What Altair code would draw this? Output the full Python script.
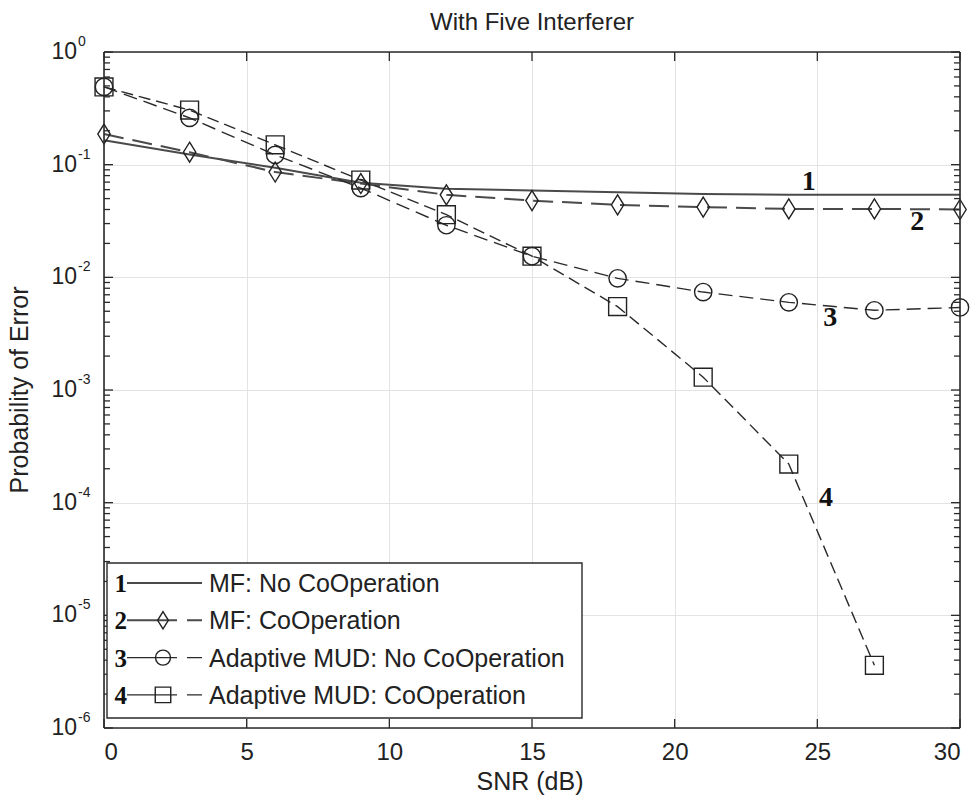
import altair as alt
import pandas as pd

# ---- data -----------------------------------------------------------------
snr = [0, 3, 6, 9, 12, 15, 18, 21, 24, 27, 30]
mf_no_coop = [0.165, 0.123, 0.094, 0.069, 0.061, 0.059, 0.057, 0.055, 0.054, 0.054, 0.054]
mf_coop = [0.187, 0.129, 0.086, 0.068, 0.054, 0.048, 0.044, 0.042, 0.0405, 0.0405, 0.040]
mud_no_coop = [0.49, 0.26, 0.122, 0.062, 0.029, 0.0154, 0.0098, 0.0074, 0.006, 0.0051, 0.0054]
mud_coop = [0.49, 0.305, 0.15, 0.073, 0.036, 0.0154, 0.0055, 0.0013, 0.00022, 0.0000036]

series_names = ["MF: No CoOperation", "MF: CoOperation",
                "Adaptive MUD: No CoOperation", "Adaptive MUD: CoOperation"]
series_ids = ["1", "2", "3", "4"]

# curve number annotations (position in data units)
label_x = [24.7, 28.5, 25.45, 25.3]
label_y = [0.070, 0.031, 0.0044, 0.00011]

x_ticks = [0, 5, 10, 15, 20, 25, 30]
y_exponents = [0, -1, -2, -3, -4, -5, -6]

# ---- layout / style -------------------------------------------------------
W, H = 856, 676
FONT = "Liberation Sans"
INK = "#222222"
DIAMOND = "M0,-1L0.62,0L0,1L-0.62,0Z"

styles = [
    dict(dash=None, width=2.0, color="#4a4a4a", shape=None, size=0),
    dict(dash=[20, 9], width=2.0, color="#4a4a4a", shape=DIAMOND, size=400),
    dict(dash=[14, 7], width=1.4, color="#2a2a2a", shape="circle", size=300),
    dict(dash=[12, 6], width=1.4, color="#2a2a2a", shape="square", size=320),
]

xs = alt.Scale(domain=[0, 30], nice=False, zero=False)
ys = alt.Scale(type="log", domain=[1e-6, 1], nice=False)

x_axis = alt.Axis(values=x_ticks, grid=True, gridColor="#e3e3e3", gridWidth=1,
                  ticks=False, domain=False, labelFontSize=24, labelFont=FONT,
                  labelColor=INK, labelPadding=12, title=None)
y_axis = alt.Axis(values=[10.0 ** e for e in y_exponents], grid=True,
                  gridColor="#e3e3e3", gridWidth=1, ticks=False, domain=False,
                  labels=False, title=None)


def X(field):
    return alt.X(field, type="quantitative", scale=xs, axis=x_axis)


def Y(field):
    return alt.Y(field, type="quantitative", scale=ys, axis=y_axis)


layers = []

# ---- curves ---------------------------------------------------------------
all_values = [mf_no_coop, mf_coop, mud_no_coop, mud_coop]
for name, vals, st in zip(series_names, all_values, styles):
    df = pd.DataFrame({"snr": snr[:len(vals)], "pe": vals, "series": name})
    line_kw = dict(color=st["color"], strokeWidth=st["width"])
    if st["dash"]:
        line_kw["strokeDash"] = st["dash"]
    layers.append(alt.Chart(df).mark_line(**line_kw).encode(x=X("snr"), y=Y("pe")))
    if st["shape"]:
        layers.append(
            alt.Chart(df).mark_point(shape=st["shape"], size=st["size"], filled=False,
                                     color="#222222", strokeWidth=1.4, opacity=1)
            .encode(x=X("snr"), y=Y("pe"))
        )

# ---- frame and inward ticks ----------------------------------------------
frame_color = "#2a2a2a"
frame = [
    dict(x=alt.value(0), x2=alt.value(W), y=alt.value(0)),
    dict(x=alt.value(0), x2=alt.value(W), y=alt.value(H)),
    dict(x=alt.value(0), y=alt.value(0), y2=alt.value(H)),
    dict(x=alt.value(W), y=alt.value(0), y2=alt.value(H)),
]
for enc in frame:
    layers.append(alt.Chart(pd.DataFrame({"k": [0]}))
                  .mark_rule(color=frame_color, strokeWidth=1.6).encode(**enc))

xt = pd.DataFrame({"v": x_ticks})
layers.append(alt.Chart(xt).mark_rule(color=frame_color, strokeWidth=1.3)
              .encode(x=X("v"), y=alt.value(H), y2=alt.value(H - 9)))
layers.append(alt.Chart(xt).mark_rule(color=frame_color, strokeWidth=1.3)
              .encode(x=X("v"), y=alt.value(0), y2=alt.value(9)))

major = pd.DataFrame({"v": [10.0 ** e for e in y_exponents]})
minor = pd.DataFrame({"v": [m * 10.0 ** e for e in range(-6, 0) for m in range(2, 10)]})
for df, ln in [(major, 9), (minor, 6)]:
    layers.append(alt.Chart(df).mark_rule(color=frame_color, strokeWidth=1.3)
                  .encode(y=Y("v"), x=alt.value(0), x2=alt.value(ln)))
    layers.append(alt.Chart(df).mark_rule(color=frame_color, strokeWidth=1.3)
                  .encode(y=Y("v"), x=alt.value(W), x2=alt.value(W - ln)))

# ---- y tick labels as 10 with superscript exponent -----------------------
ylab = pd.DataFrame({"v": [10.0 ** e for e in y_exponents],
                     "base": ["10"] * len(y_exponents),
                     "exp": [str(e) for e in y_exponents]})
layers.append(alt.Chart(ylab).mark_text(align="right", baseline="middle", fontSize=23,
                                        font=FONT, color=INK)
              .encode(y=Y("v"), x=alt.value(-27), text="base:N"))
layers.append(alt.Chart(ylab).mark_text(align="left", baseline="middle", fontSize=14,
                                        font=FONT, color=INK, dy=-10)
              .encode(y=Y("v"), x=alt.value(-26), text="exp:N"))

# ---- titles ---------------------------------------------------------------
one = pd.DataFrame({"k": [0]})
layers.append(alt.Chart(one).mark_text(text="With Five Interferer", fontSize=24, font=FONT,
                                       color=INK, align="center", baseline="alphabetic")
              .encode(x=alt.value(428), y=alt.value(-22)))
layers.append(alt.Chart(one).mark_text(text="SNR (dB)", fontSize=25, font=FONT,
                                       color=INK, align="center", baseline="alphabetic")
              .encode(x=alt.value(426), y=alt.value(738)))
layers.append(alt.Chart(one).mark_text(text="Probability of Error", fontSize=25, font=FONT,
                                       color=INK, align="center", baseline="alphabetic",
                                       angle=270)
              .encode(x=alt.value(-76), y=alt.value(338)))

# ---- curve number labels --------------------------------------------------
lab = pd.DataFrame({"x": label_x, "y": label_y, "t": series_ids})
layers.append(alt.Chart(lab).mark_text(font="Liberation Serif", fontWeight="bold",
                                       fontSize=28, color="#111111", baseline="middle")
              .encode(x=X("x"), y=Y("y"), text="t:N"))

# ---- legend box -----------------------------------------------------------
layers.append(alt.Chart(one).mark_rect(fill="white", stroke=frame_color, strokeWidth=1.4)
              .encode(x=alt.value(3), x2=alt.value(478), y=alt.value(511), y2=alt.value(666)))
for i, (name, sid, st) in enumerate(zip(series_names, series_ids, styles)):
    ly = 531 + 37.3 * i
    rule_kw = dict(color=st["color"], strokeWidth=st["width"])
    if st["dash"]:
        rule_kw["strokeDash"] = [50, 10]
    layers.append(alt.Chart(one).mark_rule(**rule_kw)
                  .encode(x=alt.value(23), x2=alt.value(98), y=alt.value(ly)))
    if st["shape"]:
        layers.append(alt.Chart(one).mark_point(shape=st["shape"], size=st["size"] * 0.75,
                                                filled=False, color="#222222",
                                                strokeWidth=1.4, opacity=1)
                      .encode(x=alt.value(59), y=alt.value(ly)))
    layers.append(alt.Chart(one).mark_text(text=sid, font="Liberation Serif",
                                           fontWeight="bold", fontSize=25, color="#111111",
                                           align="right", baseline="middle")
                  .encode(x=alt.value(23), y=alt.value(ly + 1)))
    layers.append(alt.Chart(one).mark_text(text=name, font=FONT, fontSize=25, color=INK,
                                           align="left", baseline="middle")
                  .encode(x=alt.value(105), y=alt.value(ly + 1)))

chart = alt.layer(*layers).properties(
    width=W, height=H,
    autosize=alt.AutoSizeParams(type="none"),
    padding={"left": 104, "top": 52, "right": 19, "bottom": 75},
    background="white",
).configure_view(stroke=None)

chart.save("out.html", embed_options={"renderer": "svg", "actions": False})
